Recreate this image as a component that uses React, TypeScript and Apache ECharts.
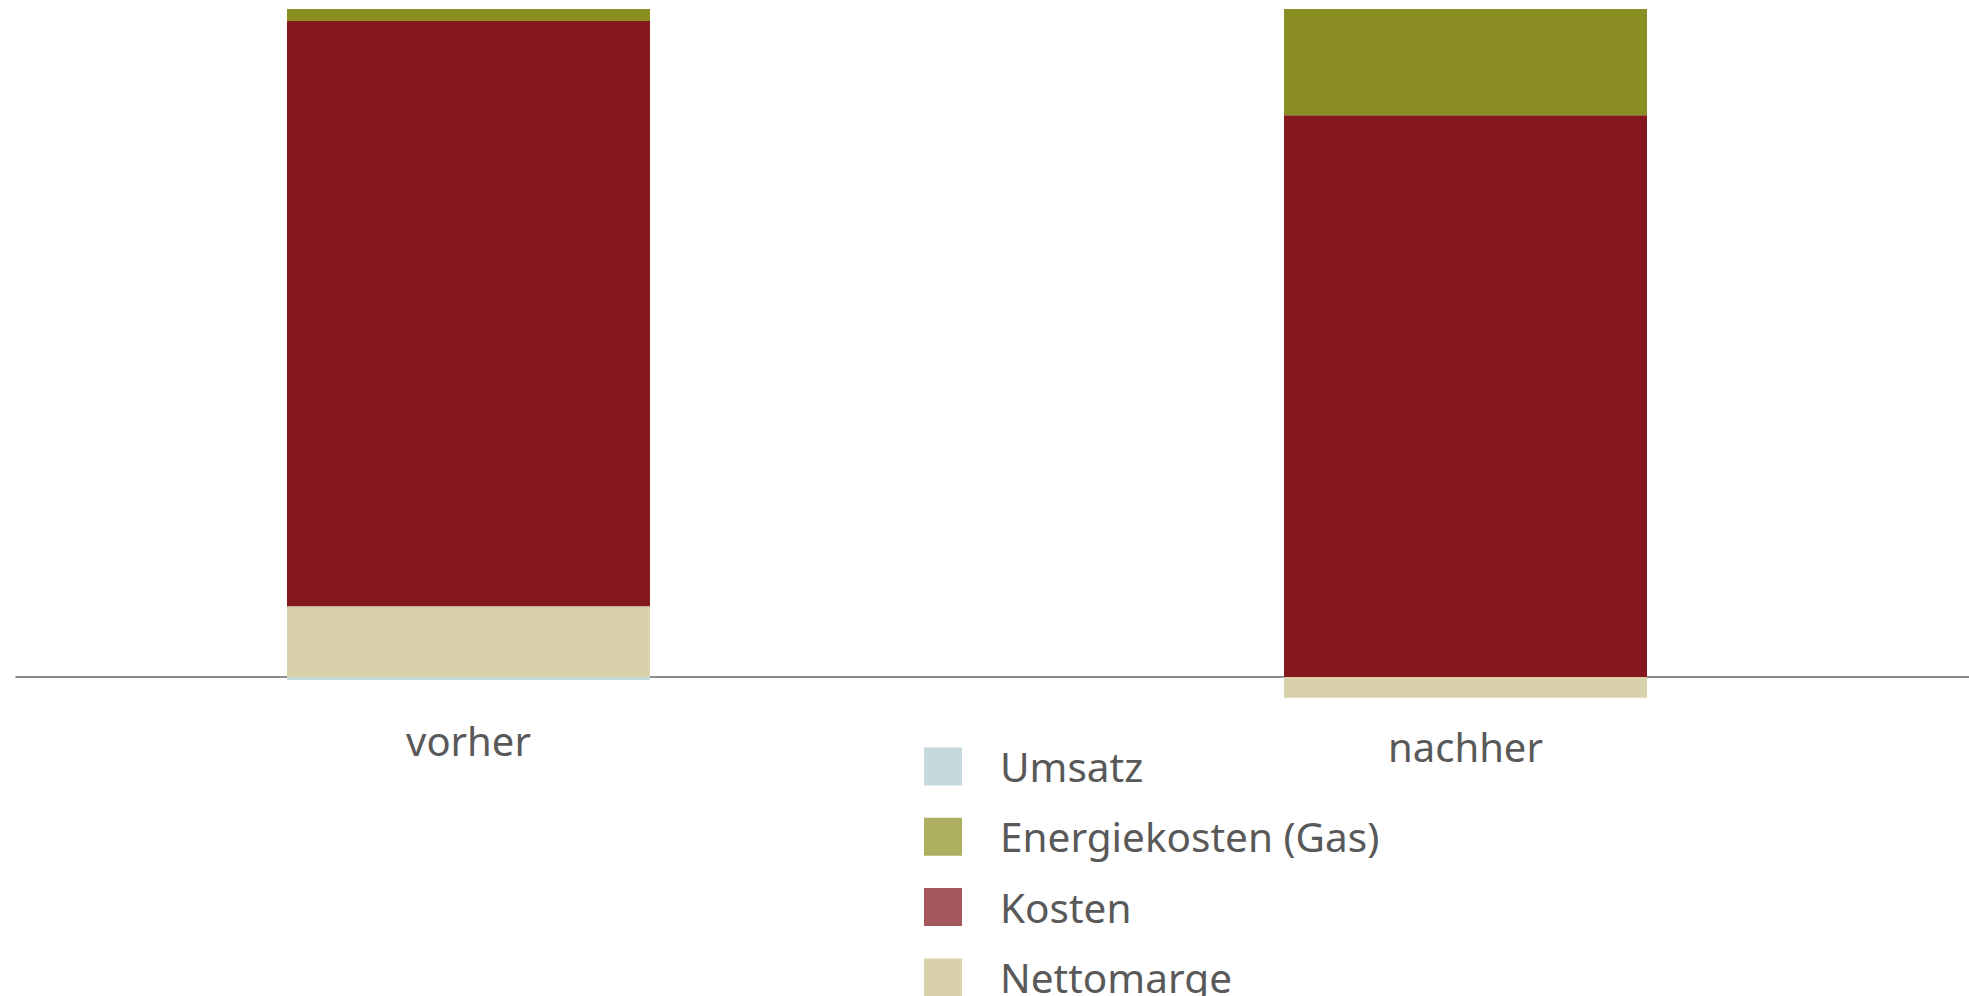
import React, { useEffect, useRef } from "react";
import * as echarts from "echarts";

const categories = ["vorher", "nachher"];
const umsatz = [-0.45, 0];
const nettomarge = [10.6, -3.1];
const kosten = [87.6, 84.1];
const energiekosten = [1.8, 15.9];

const legendOrder = ["Umsatz", "Energiekosten (Gas)", "Kosten", "Nettomarge"];

const BAR = {
  Umsatz: "#c6d9dd",
  Energie: "#8b8f23",
  Kosten: "#85181f",
  Netto: "#d9d1aa",
};
const LEGEND = {
  Umsatz: "#c6d9dd",
  Energie: "#aeb061",
  Kosten: "#a5585c",
  Netto: "#d9d1aa",
};

const FONT = "'Noto Sans', 'DejaVu Sans', sans-serif";
const TEXT = "#595959";

// the chart div starts 30px left of the page edge
const SHIFT = 30;

export default function App() {
  const ref = useRef<HTMLDivElement>(null);
  useEffect(() => {
    if (!ref.current) return;
    const chart = echarts.init(ref.current, null, { renderer: "svg" });
    const barCommon = {
      type: "bar",
      stack: "total",
      barWidth: 363,
      xAxisIndex: 0,
      yAxisIndex: 0,
      emphasis: { disabled: true },
    };
    chart.setOption({
      animation: false,
      backgroundColor: "#ffffff",
      grid: [
        { left: 0, width: 1994, top: 9, height: 801.6, containLabel: false },
        { left: 16 + SHIFT, width: 1953, top: 9, height: 668, containLabel: false },
      ],
      xAxis: [
        {
          type: "category",
          gridIndex: 0,
          position: "bottom",
          offset: -133.6,
          data: [
            { value: categories[0] },
            { value: categories[1], textStyle: { padding: [6, 0, 0, 0] } },
          ],
          splitLine: { show: false },
          axisTick: { show: false },
          axisLine: { show: false, onZero: false },
          axisLabel: {
            fontSize: 40,
            color: TEXT,
            fontFamily: FONT,
            margin: 43,
            interval: 0,
          },
        },
        {
          type: "value",
          gridIndex: 1,
          min: 0,
          max: 1,
          splitLine: { show: false },
          axisTick: { show: false },
          axisLabel: { show: false },
          axisLine: { show: true, onZero: false, lineStyle: { color: "#666666", width: 1.5 } },
        },
      ],
      yAxis: [
        {
          type: "value",
          gridIndex: 0,
          min: -20,
          max: 100,
          show: false,
          splitLine: { show: false },
        },
        {
          type: "value",
          gridIndex: 1,
          min: 0,
          max: 1,
          show: false,
          splitLine: { show: false },
        },
      ],
      legend: {
        orient: "vertical",
        left: 924 + SHIFT,
        top: 746,
        padding: 0,
        itemWidth: 38,
        itemHeight: 38,
        itemGap: 29.3,
        icon: "rect",
        selectedMode: false,
        textStyle: {
          fontSize: 40.5,
          color: TEXT,
          fontFamily: FONT,
          padding: [0, 0, 0, 33],
        },
        data: [
          { name: legendOrder[0], itemStyle: { color: LEGEND.Umsatz } },
          { name: legendOrder[1], itemStyle: { color: LEGEND.Energie } },
          { name: legendOrder[2], itemStyle: { color: LEGEND.Kosten } },
          { name: legendOrder[3], itemStyle: { color: LEGEND.Netto } },
        ],
      },
      series: [
        { ...barCommon, name: "Umsatz", data: umsatz, itemStyle: { color: BAR.Umsatz } },
        { ...barCommon, name: "Nettomarge", data: nettomarge, itemStyle: { color: BAR.Netto } },
        { ...barCommon, name: "Kosten", data: kosten, itemStyle: { color: BAR.Kosten } },
        { ...barCommon, name: "Energiekosten (Gas)", data: energiekosten, itemStyle: { color: BAR.Energie } },
      ],
    });
    return () => chart.dispose();
  }, []);
  return (
    <div
      ref={ref}
      style={{ position: "fixed", left: -SHIFT, top: 0, width: 1969 + SHIFT, height: 1100, background: "#fff" }}
    />
  );
}
